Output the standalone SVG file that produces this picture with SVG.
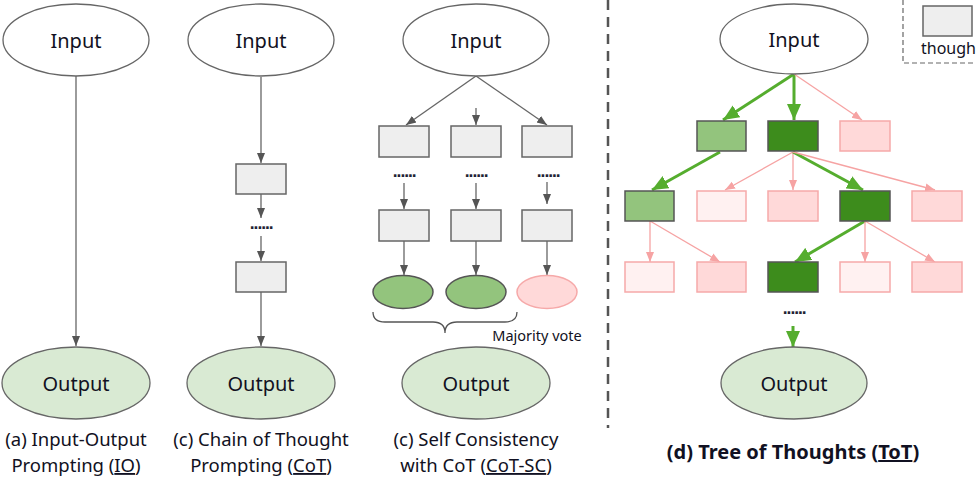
<svg xmlns="http://www.w3.org/2000/svg" width="976" height="479" viewBox="0 0 976 479">
<defs>
<style>
.lbl{font-family:"Noto Sans","Open Sans","Liberation Sans",sans-serif;fill:#111122;text-anchor:middle}
.node{font-size:20px}
.cap{font-size:18.5px}
.in{fill:#ffffff;stroke:#666;stroke-width:1.3}
.out{fill:#d9ead3;stroke:#666;stroke-width:1.3}
.grey{fill:#eeeeee;stroke:#666;stroke-width:1.5}
.lg{fill:#93c47d;stroke:#555;stroke-width:1.5}
.dg{fill:#3d8c1c;stroke:#555;stroke-width:1.5}
.pk{fill:#ffd9d9;stroke:#f6a9a9;stroke-width:1.5}
.vp{fill:#fff1f1;stroke:#f6a9a9;stroke-width:1.5}
.ga{stroke:#666;stroke-width:1.3;fill:none;marker-end:url(#ah)}
.gr{stroke:#55ad2e;stroke-width:3;fill:none;marker-end:url(#gh)}
.pa{stroke:#f6a3a3;stroke-width:1.3;fill:none;marker-end:url(#ph)}
.dots{font-family:"DejaVu Sans",sans-serif;font-size:14px;font-weight:bold;fill:#223;text-anchor:middle;letter-spacing:-1.5px}
</style>
<marker id="ah" markerUnits="userSpaceOnUse" markerWidth="10" markerHeight="10" viewBox="0 0 10 10" refX="10" refY="5" orient="auto"><path d="M0,1 L10,5 L0,9 Z" fill="#555"/></marker>
<marker id="gh" markerUnits="userSpaceOnUse" markerWidth="16" markerHeight="14" viewBox="0 0 16 14" refX="16" refY="7" orient="auto"><path d="M0,0 L16,7 L0,14 Z" fill="#55ad2e"/></marker>
<marker id="ph" markerUnits="userSpaceOnUse" markerWidth="10" markerHeight="10" viewBox="0 0 10 10" refX="10" refY="5" orient="auto"><path d="M0,1 L10,5 L0,9 Z" fill="#f6a3a3"/></marker>
</defs>
<rect width="976" height="479" fill="#ffffff"/>

<!-- separators / legend -->
<line x1="608" y1="0" x2="608" y2="428" stroke="#555" stroke-width="2.5" stroke-dasharray="10 7"/>
<g id="legend">
<path d="M903,0 L903,63 L976,63" fill="none" stroke="#666" stroke-width="1.2" stroke-dasharray="5 3"/>
<rect x="923" y="6" width="49" height="30" class="grey"/>
<text x="921" y="54" class="lbl" style="font-size:16px;text-anchor:start">though</text>
</g>

<g id="connectors">
<!-- a -->
<line x1="76" y1="76" x2="76" y2="346" class="ga"/>
<!-- b -->
<line x1="261" y1="77" x2="261" y2="163" class="ga"/>
<line x1="261" y1="194" x2="261" y2="218" class="ga"/>
<line x1="261" y1="236" x2="261" y2="261" class="ga"/>
<line x1="261" y1="292" x2="261" y2="346" class="ga"/>
<!-- c -->
<line x1="476" y1="76" x2="406" y2="125" class="ga"/>
<line x1="476" y1="108" x2="476" y2="125" class="ga"/>
<line x1="476" y1="76" x2="547" y2="125" class="ga"/>
<line x1="404" y1="183" x2="404" y2="209" class="ga"/>
<line x1="476" y1="183" x2="476" y2="209" class="ga"/>
<line x1="547" y1="182" x2="547" y2="204" class="ga"/>
<line x1="404" y1="241" x2="404" y2="275" class="ga"/>
<line x1="476" y1="241" x2="476" y2="275" class="ga"/>
<line x1="547" y1="241" x2="547" y2="275" class="ga"/>
<!-- d -->
<line x1="794" y1="74" x2="723" y2="120" class="gr"/>
<line x1="794" y1="74" x2="794" y2="120" class="gr"/>
<line x1="794" y1="74" x2="862" y2="120" class="pa"/>
<line x1="720" y1="152" x2="652" y2="190" class="gr"/>
<line x1="793" y1="152" x2="725" y2="190" class="pa"/>
<line x1="793" y1="152" x2="793" y2="190" class="pa"/>
<line x1="793" y1="152" x2="863" y2="190" class="gr"/>
<line x1="793" y1="152" x2="935" y2="190" class="pa"/>
<line x1="650" y1="221" x2="650" y2="262" class="pa"/>
<line x1="650" y1="221" x2="720" y2="262" class="pa"/>
<line x1="865" y1="221" x2="795" y2="262" class="gr"/>
<line x1="865" y1="221" x2="865" y2="262" class="pa"/>
<line x1="865" y1="221" x2="935" y2="262" class="pa"/>
<line x1="793" y1="326" x2="793" y2="347" class="gr"/>
</g>

<!-- column a -->
<g id="a-input"><ellipse cx="76" cy="40" rx="73" ry="36" class="in"/><text x="76" y="48" class="lbl node">Input</text></g>
<g id="a-output"><ellipse cx="76" cy="383" rx="74" ry="36" class="out"/><text x="76" y="391" class="lbl node">Output</text></g>

<!-- column b -->
<g id="b-input"><ellipse cx="261" cy="40" rx="73" ry="36" class="in"/><text x="261" y="48" class="lbl node">Input</text></g>
<g id="b-t1"><rect x="236" y="164" width="50" height="30" class="grey"/></g>
<g id="b-dots"><text x="261" y="229" class="dots">......</text></g>
<g id="b-t2"><rect x="236" y="262" width="50" height="30" class="grey"/></g>
<g id="b-output"><ellipse cx="261" cy="383" rx="74" ry="36" class="out"/><text x="261" y="391" class="lbl node">Output</text></g>

<!-- column c -->
<g id="c-input"><ellipse cx="476" cy="40" rx="73" ry="36" class="in"/><text x="476" y="48" class="lbl node">Input</text></g>
<g id="c-t11"><rect x="379" y="126" width="50" height="31" class="grey"/></g>
<g id="c-t12"><rect x="451" y="126" width="50" height="31" class="grey"/></g>
<g id="c-t13"><rect x="522" y="126" width="50" height="31" class="grey"/></g>
<g id="c-dots"><text x="404" y="177" class="dots">......</text><text x="476" y="177" class="dots">......</text><text x="548" y="177" class="dots">......</text></g>
<g id="c-t21"><rect x="379" y="210" width="50" height="31" class="grey"/></g>
<g id="c-t22"><rect x="451" y="210" width="50" height="31" class="grey"/></g>
<g id="c-t23"><rect x="522" y="210" width="50" height="31" class="grey"/></g>
<g id="c-a1"><ellipse cx="403" cy="292" rx="30" ry="16.5" class="lg"/></g>
<g id="c-a2"><ellipse cx="476" cy="292" rx="30" ry="16.5" class="lg"/></g>
<g id="c-a3"><ellipse cx="547" cy="292" rx="30" ry="16.5" class="pk"/></g>
<g id="c-vote">
<path d="M373,312 Q373,322 385,322 L433,322 Q445,322 445,333 Q445,322 457,322 L505,322 Q517,322 517,312" fill="none" stroke="#555" stroke-width="1.3"/>
<text x="537" y="341" class="lbl" style="font-size:14.5px">Majority vote</text>
</g>
<g id="c-output"><ellipse cx="476" cy="383" rx="74" ry="36" class="out"/><text x="476" y="391" class="lbl node">Output</text></g>

<!-- column d -->
<g id="d-input"><ellipse cx="794" cy="39" rx="74" ry="35" class="in"/><text x="794" y="47" class="lbl node">Input</text></g>
<g id="d-1a"><rect x="697" y="121" width="49" height="30" class="lg"/></g>
<g id="d-1b"><rect x="768" y="121" width="50" height="30" class="dg"/></g>
<g id="d-1c"><rect x="840" y="121" width="50" height="30" class="pk"/></g>
<g id="d-2a"><rect x="625" y="191" width="49" height="30" class="lg"/></g>
<g id="d-2b"><rect x="697" y="191" width="49" height="30" class="vp"/></g>
<g id="d-2c"><rect x="768" y="191" width="50" height="30" class="pk"/></g>
<g id="d-2d"><rect x="840" y="191" width="50" height="30" class="dg"/></g>
<g id="d-2e"><rect x="912" y="191" width="50" height="30" class="pk"/></g>
<g id="d-3a"><rect x="625" y="262" width="49" height="30" class="vp"/></g>
<g id="d-3b"><rect x="697" y="262" width="49" height="30" class="pk"/></g>
<g id="d-3c"><rect x="768" y="262" width="50" height="30" class="dg"/></g>
<g id="d-3d"><rect x="840" y="262" width="50" height="30" class="vp"/></g>
<g id="d-3e"><rect x="912" y="262" width="50" height="30" class="pk"/></g>
<g id="d-dots"><text x="794" y="314" class="dots">......</text></g>
<g id="d-output"><ellipse cx="794" cy="383" rx="73" ry="36" class="out"/><text x="794" y="391" class="lbl node">Output</text></g>

<!-- captions -->
<g id="captions">
<text x="76" y="446" class="lbl cap">(a) Input-Output</text>
<text x="76" y="472" class="lbl cap">Prompting (<tspan text-decoration="underline">IO</tspan>)</text>
<text x="261" y="446" class="lbl cap">(c) Chain of Thought</text>
<text x="261" y="472" class="lbl cap">Prompting (<tspan text-decoration="underline">CoT</tspan>)</text>
<text x="476" y="446" class="lbl cap">(c) Self Consistency</text>
<text x="476" y="472" class="lbl cap">with CoT (<tspan text-decoration="underline">CoT-SC</tspan>)</text>
<text x="793" y="459" class="lbl" style="font-size:20px;font-weight:bold">(d) Tree of Thoughts (<tspan text-decoration="underline">ToT</tspan>)</text>
</g>
</svg>
